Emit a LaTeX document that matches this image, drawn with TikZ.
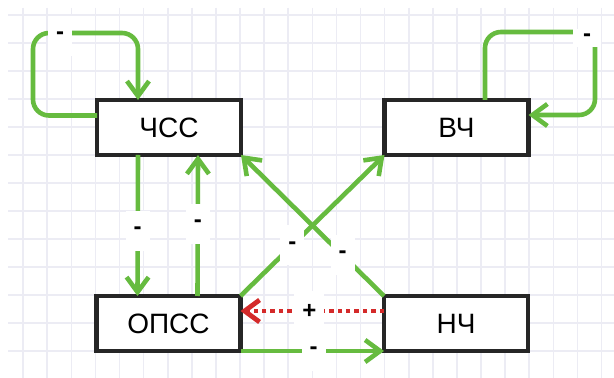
\documentclass[tikz,border=0pt]{standalone}
\usepackage{fontspec}
\setmainfont{Liberation Sans}
\usetikzlibrary{calc,arrows.meta}
\definecolor{linkgreen}{HTML}{66BB3F}
\definecolor{linkred}{HTML}{D42A2A}
\definecolor{gridline}{HTML}{ECECF4}

\begin{document}
\begin{tikzpicture}[x=0.5pt,y=-0.5pt]
\tikzstyle{block}=[draw=black!85,line width=2.3pt,fill=white,outer sep=0pt,minimum width=72pt,minimum height=27.5pt,font=\fontsize{14}{16}\selectfont]

\tikzstyle{link}=[draw=linkgreen,line width=2.3pt,-{Straight Barb[length=7.5pt,width=11pt]}]

\tikzstyle{sign}=[fill=white,inner xsep=4pt,inner ysep=0pt,minimum height=20pt,font=\bfseries\fontsize{12}{14}\selectfont]

\fill [white] (0,0) rectangle (614,378);
\useasboundingbox (0,0) rectangle (614,378);

\foreach \k in {1,...,25} \draw [gridline,line width=0.8pt] ({-1+24.1*\k},8) -- ({-1+24.1*\k},378);
\foreach \k in {0,...,12} \draw [gridline,line width=0.8pt] (8,{15+28*\k}) -- (614,{15+28*\k});

\node (chss) [block] at (169,127.5) {ЧСС};
\node (vch) [block] at (456.5,127.5) {ВЧ};
\node (opss) [block] at (168.5,323.5) {ОПСС};
\node (nch) [block] at (456,323.5) {НЧ};

% self loops
\draw [link,rounded corners=8pt] ($(chss.west)+(0,-12)$) -- ++(-64,0) -- ++(0,-82.5) -| ($(chss.north west)+(41,0)$);
\node (s1) [sign] at (60,36) {-};
\draw [link,rounded corners=8pt] ($(vch.north)+(28.5,0)$) |- ++(110,-68) |- ($(vch.east)+(0,-12.5)$);
\node (s2) [sign,minimum width=14pt,minimum height=9pt] at (587,38) {-};

% between the blocks
\draw [link] ($(chss.south west)+(41,0)$) -- node (s3) [sign,pos=0.54] {-} ($(opss.north west)+(41,0)$);
\draw [link] ($(opss.north west)+(101,0)$) -- node (s4) [sign,pos=0.51] {-} ($(chss.south west)+(101,0)$);
\draw [link] (opss.north east) -- node (s5) [sign,pos=0.36] {-} (vch.south west);
\draw [link] (nch.north west) -- node (s6) [sign,pos=0.29] {-} (chss.south east);
\draw [draw=linkred,line width=2.4pt,dash pattern=on 2.2pt off 2pt,-{Straight Barb[length=7.5pt,width=11pt]}] ($(nch.west)+(0,-12.5)$) -- node (s7) [sign,pos=0.52] {+} ($(opss.east)+(0,-12.5)$);
\draw [link] (opss.south east) -- node (s8) [sign,pos=0.51] {-} (nch.south west);

\end{tikzpicture}
\end{document}
